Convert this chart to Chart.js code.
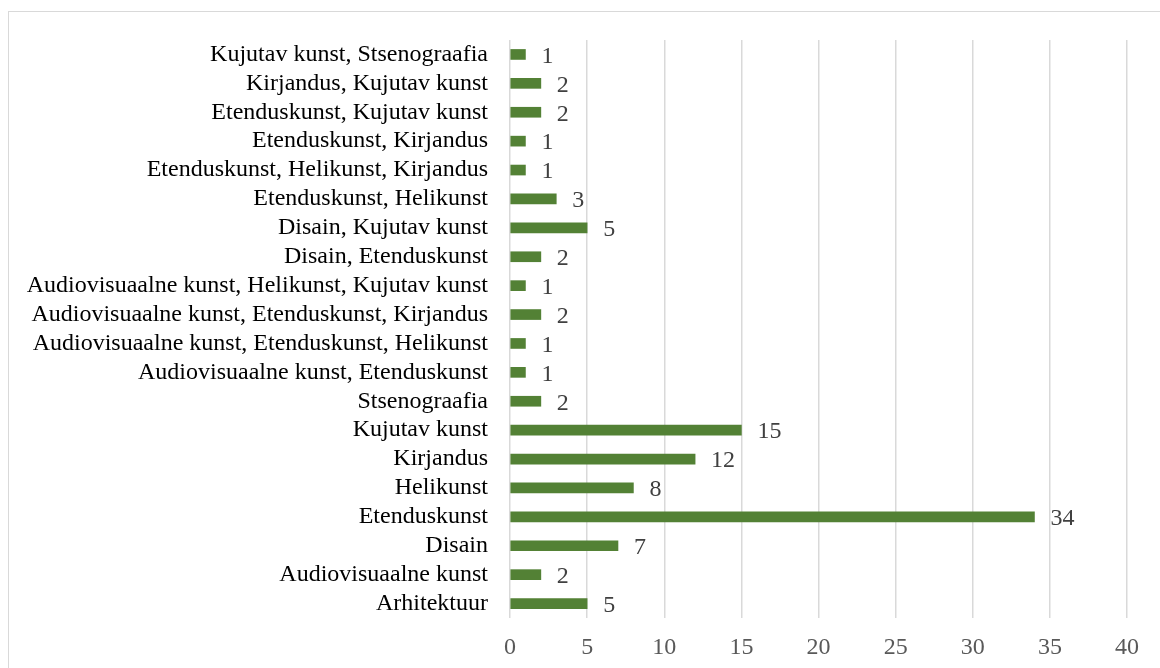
<!DOCTYPE html>
<html>
<head>
<meta charset="utf-8">
<script src="https://cdn.jsdelivr.net/npm/chart.js@4/dist/chart.umd.min.js"></script>
<style>
  html, body { margin: 0; padding: 0; background: #fff; width: 1160px; height: 668px; overflow: hidden; }
  #frame { position: absolute; left: 8px; top: 11px; width: 1200px; height: 700px; border: 1px solid #d9d9d9; box-sizing: border-box; }
  #c { position: absolute; left: 0; top: 0; }
</style>
</head>
<body>
<div id="frame"></div>
<canvas id="c" width="1160" height="668"></canvas>
<script>
const categories = [
  "Kujutav kunst, Stsenograafia",
  "Kirjandus, Kujutav kunst",
  "Etenduskunst, Kujutav kunst",
  "Etenduskunst, Kirjandus",
  "Etenduskunst, Helikunst, Kirjandus",
  "Etenduskunst, Helikunst",
  "Disain, Kujutav kunst",
  "Disain, Etenduskunst",
  "Audiovisuaalne kunst, Helikunst, Kujutav kunst",
  "Audiovisuaalne kunst, Etenduskunst, Kirjandus",
  "Audiovisuaalne kunst, Etenduskunst, Helikunst",
  "Audiovisuaalne kunst, Etenduskunst",
  "Stsenograafia",
  "Kujutav kunst",
  "Kirjandus",
  "Helikunst",
  "Etenduskunst",
  "Disain",
  "Audiovisuaalne kunst",
  "Arhitektuur"
];
const counts = [1, 2, 2, 1, 1, 3, 5, 2, 1, 2, 1, 1, 2, 15, 12, 8, 34, 7, 2, 5];
const xTicks = [0, 5, 10, 15, 20, 25, 30, 35, 40];

const FONT = "'Liberation Serif', 'Times New Roman', serif";

const valueLabels = {
  id: 'valueLabels',
  afterDatasetsDraw(chart) {
    const ctx = chart.ctx;
    const meta = chart.getDatasetMeta(0);
    ctx.save();
    ctx.font = "24px " + FONT;
    ctx.fillStyle = "#404040";
    ctx.textAlign = "left";
    ctx.textBaseline = "middle";
    meta.data.forEach((bar, i) => {
      ctx.fillText(String(counts[i]), bar.x + 16, bar.y + 2);
    });
    ctx.restore();
  }
};

new Chart(document.getElementById('c'), {
  type: 'bar',
  data: {
    labels: categories,
    datasets: [{
      data: counts,
      backgroundColor: '#538135',
      borderWidth: 0,
      barThickness: 10
    }]
  },
  options: {
    indexAxis: 'y',
    responsive: false,
    animation: false,
    layout: { padding: { top: 40, right: 33, left: 0, bottom: 0 } },
    plugins: { legend: { display: false }, tooltip: { enabled: false } },
    scales: {
      x: {
        min: 0, max: 40,
        afterBuildTicks(axis) { axis.ticks = xTicks.map(v => ({ value: v })); },
        afterFit(axis) { axis.height = 50; },
        grid: { color: '#d9d9d9', lineWidth: 1.5, drawTicks: false },
        border: { display: false },
        ticks: { color: '#595959', font: { family: FONT, size: 24 }, padding: 15, maxRotation: 0 }
      },
      y: {
        afterFit(axis) { axis.width = 510; },
        grid: { display: false, drawTicks: false },
        border: { display: false },
        ticks: { color: '#000000', font: { family: FONT, size: 24 }, padding: 22, autoSkip: false }
      }
    }
  },
  plugins: [valueLabels]
});
</script>
</body>
</html>
